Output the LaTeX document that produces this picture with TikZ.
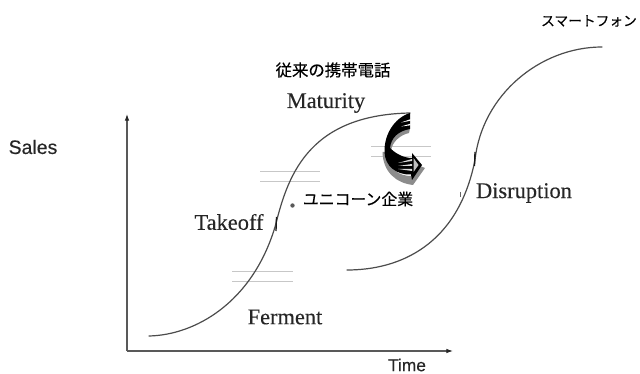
\documentclass[tikz,border=0pt]{standalone}
\usepackage{fontspec}
\setmainfont[FakeBold=0.15]{Liberation Serif}
\newfontfamily\labelsans[FakeBold=0.3]{Liberation Sans}
\newfontfamily\cjk[FakeBold=0.25]{Noto Sans CJK JP}
\usetikzlibrary{arrows.meta}
\tikzset{
  x=0.75pt,y=-0.75pt,
  phase/.style={font=\fontsize{16.8pt}{19pt}\selectfont,text=black!85,inner sep=0pt},
  axislabel/.style={font=\labelsans\fontsize{#1}{15pt}\selectfont,text=black!85,inner sep=0pt},
  jp/.style={font=\cjk\fontsize{#1}{14pt}\selectfont,text=black,inner sep=0pt},
  axis/.style={line width=0.85pt,draw=black!65,-{Latex[length=5pt,width=3.5pt,color=black!85]}},
  scurve/.style={line width=0.9pt,draw=black!70,line cap=round},
  tick/.style={line width=1pt,draw=black!90},
  guide/.style={line width=0.7pt,draw=black!22}
}
\begin{document}
\begin{tikzpicture}
\useasboundingbox (0,0) rectangle (640,374);
\fill[white] (0,0) rectangle (640,374);

% axes
\coordinate (origin) at (127,351);
\coordinate (ytop) at (127,114);
\coordinate (xend) at (453,351);
\draw[axis] (origin) -- (ytop);
\draw[axis] (origin) -- (xend);

% horizontal guide lines
\foreach \xa/\xb/\yy in {260/320/171, 260/320/181, 232/293/271, 232/293/281, 371/431/146, 371/431/156}
  \draw[guide] (\xa,\yy) -- (\xb,\yy);

% first S-curve
\coordinate (a0) at (149,336);
\coordinate (a1) at (275,227);
\coordinate (a2) at (410,113);
\draw[scurve] (a0) .. controls (195,335) and (252,303) .. (a1)
  .. controls (287,180) and (305,115) .. (a2);
\draw[tick] (276.5,217) -- (276,231);

% second S-curve
\coordinate (b0) at (347,270);
\coordinate (b1) at (475,160);
\coordinate (b2) at (602,47);
\draw[scurve] (b0) .. controls (400,270) and (458,245) .. (b1)
  .. controls (482,95) and (540,47) .. (b2);
\draw[tick] (475,152) -- (474.5,166);
\draw[line width=0.6pt,draw=black!60] (460,192) -- (460,197);

% curved shift arrow: shadow, black body, light stripes
\fill[black!45] (410,128) -- (409,133)
  .. controls (400,135) and (392,142) .. (391,151)
  -- (387,148)
  .. controls (390,138) and (398,131) .. (410,128) -- cycle;
\fill[black!45] (382.5,152) .. controls (383,172) and (396,183) .. (413,185)
  -- (425,168) -- (420,166) -- (411,176)
  .. controls (400,176) and (388,170) .. (386,152) -- cycle;
\fill[black] (410,113) -- (410,129)
  .. controls (398,131) and (391,138) .. (390,148)
  .. controls (394,152) and (402,158) .. (412,158)
  -- (412,153) -- (422,165) -- (412,180) -- (411,174.5)
  .. controls (396,175) and (385,166) .. (384.5,152)
  .. controls (384,135) and (394,118) .. (410,113) -- cycle;
% light wedges in the two bands
\foreach \ya/\yb in {120/122.5, 124.5/126.5}
  \fill[white] (410.5,\ya-0.8) -- (410.5,\ya+0.8) -- (401,\yb) -- cycle;
\foreach \ya/\yb in {160/163, 165/166, 170/169}
  \fill[black!15] (412,\ya-1) -- (412,\ya+1) -- (398,\yb) -- cycle;
\fill[black!25] (413.5,158) -- (418.5,165) -- (413.5,172) -- cycle;

% labels
\node[phase] (maturity) at (326,103) {Maturity};
\node[phase] (takeoff) at (229,222) {Takeoff};
\node[phase] (ferment) at (285,317) {Ferment};
\node[phase] (disruption) at (524,193) {Disruption};
\node[axislabel=14.6pt] (sales) at (33,147) {Sales};
\node[axislabel=13pt] (time) at (407,365) {Time};
\node[jp=12.3pt] (phones) at (333,70) {従来の携帯電話};
\node[jp=11.9pt] (unicorn) at (358,199) {ユニコーン企業};
\node[jp=10.3pt] (smart) at (589,21) {スマートフォン};
\fill[black!65] (292.5,205.5) circle[radius=2.2];
\end{tikzpicture}
\end{document}
